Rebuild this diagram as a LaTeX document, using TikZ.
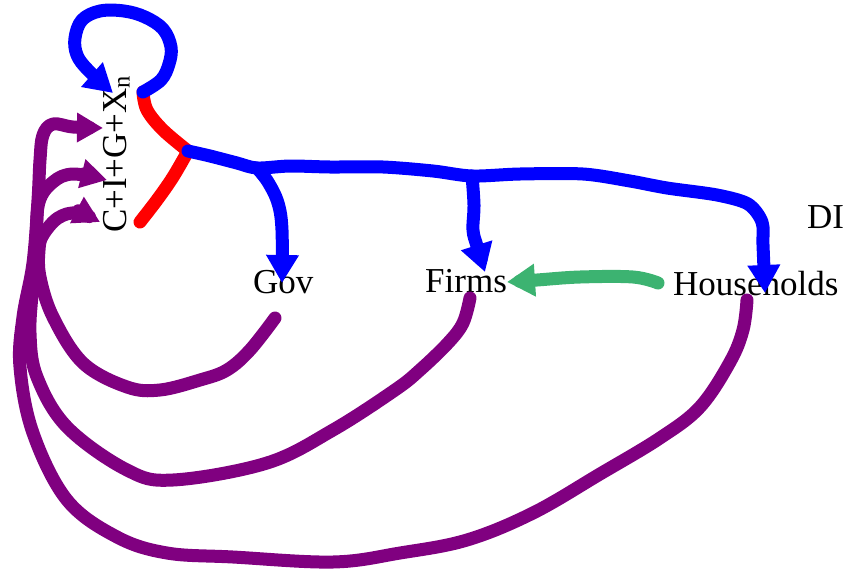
\documentclass[tikz,border=0pt]{standalone}
\usepackage{fontspec}
\setmainfont{Liberation Serif}
\usetikzlibrary{arrows.meta}
\definecolor{flowblue}{RGB}{0,0,255}
\definecolor{flowpurple}{RGB}{128,0,128}
\definecolor{flowred}{RGB}{255,0,0}
\definecolor{flowgreen}{RGB}{60,179,113}
\tikzset{
  lbl/.style={inner sep=0pt, anchor=base west, font=\fontsize{35}{40}\selectfont},
  stroke/.style={line width=13pt, line cap=round, line join=round},
  bigtip/.style={-{Triangle[length=28pt,width=31pt]}},
  smalltip/.style={-{Triangle[length=26pt,width=28pt]}},
}
\begin{document}
\begin{tikzpicture}[x=1pt,y=-1pt]
\useasboundingbox (0,0) rectangle (848,573);

% labels
\node[lbl, rotate=90] (agg) at (126,233) {C+I+G+X\textsubscript{n}};
\node[lbl] (gov) at (253,293) {Gov};
\node[lbl] (firms) at (425,292) {Firms};
\node[lbl] (hh) at (673,295) {Households};
\node[lbl] (di) at (807,228) {DI};

% stroke ends and branch points
\coordinate (aggtop) at (143,92);
\coordinate (aggbot) at (140,222);
\coordinate (split) at (188,151);
\coordinate (jgov) at (257,168);
\coordinate (jfirms) at (472,176);
\coordinate (tipgov) at (282,283);
\coordinate (tipfirms) at (485,272);
\coordinate (tiphh) at (765,293);
\coordinate (tipself) at (113,93);
\coordinate (greenstart) at (658,283);
\coordinate (greentip) at (507,282);
\coordinate (govout) at (275,318);
\coordinate (firmsout) at (470,298);
\coordinate (hhout) at (747,300);
\coordinate (inA) at (103,128);
\coordinate (inB) at (107,180);
\coordinate (inC) at (100,222);

% red bracket
\draw[stroke, flowred] plot[smooth, tension=0.6] coordinates {(aggtop) (147,110) (163,130) (split)};
\draw[stroke, flowred] plot[smooth, tension=0.6] coordinates {(split) (173,177) (157,200) (aggbot)};

% blue self loop
\draw[stroke, flowblue, bigtip] plot[smooth, tension=0.6] coordinates {(aggtop) (161,80) (169,64) (171,47) (163,29) (145,17) (124,11) (100,11) (82,20) (75,38) (77,55) (88,70) (tipself)};

% blue flows to Gov, Firms and Households
\draw[stroke, flowblue, bigtip] plot[smooth, tension=0.5] coordinates {(split) (210,156) (237,163) (jgov) (290,166) (330,167) (383,167) (433,171) (jfirms) (520,174) (583,174) (630,181) (667,188) (717,195) (748,204) (762,222) (763,245) (tiphh)};
\draw[stroke, flowblue, bigtip] plot[smooth, tension=0.6] coordinates {(jgov) (268,182) (278,203) (282,230) (tipgov)};
\draw[stroke, flowblue, bigtip] plot[smooth, tension=0.6] coordinates {(jfirms) (474,205) (473,230) (477,246) (tipfirms)};

% green: households to firms
\draw[stroke, flowgreen, bigtip] plot[smooth, tension=0.6] coordinates {(greenstart) (633,277) (580,277) (537,280) (greentip)};

% purple spending flows back to C+I+G+Xn
\draw[stroke, flowpurple, smalltip] plot[smooth, tension=0.6] coordinates {(govout) (250,350) (227,370) (200,380) (160,390) (127,387) (83,363) (53,317) (40,277) (39,250) (43,235) (58,218) (77,213) (inC)};
\draw[stroke, flowpurple, smalltip] plot[smooth, tension=0.6] coordinates {(firmsout) (463,323) (448,343) (420,370) (395,390) (333,430) (267,463) (173,480) (127,470) (67,427) (37,377) (30,333) (33,283) (36,240) (39,202) (53,182) (73,174) (inB)};
\draw[stroke, flowpurple, smalltip] plot[smooth, tension=0.6] coordinates {(hhout) (743,330) (730,362) (700,407) (660,438) (600,474) (533,513) (467,540) (400,553) (333,562) (233,557) (167,553) (117,537) (67,500) (33,433) (20,367) (23,317) (33,263) (38,200) (40,160) (43,135) (53,124) (73,127) (inA)};
\end{tikzpicture}
\end{document}
